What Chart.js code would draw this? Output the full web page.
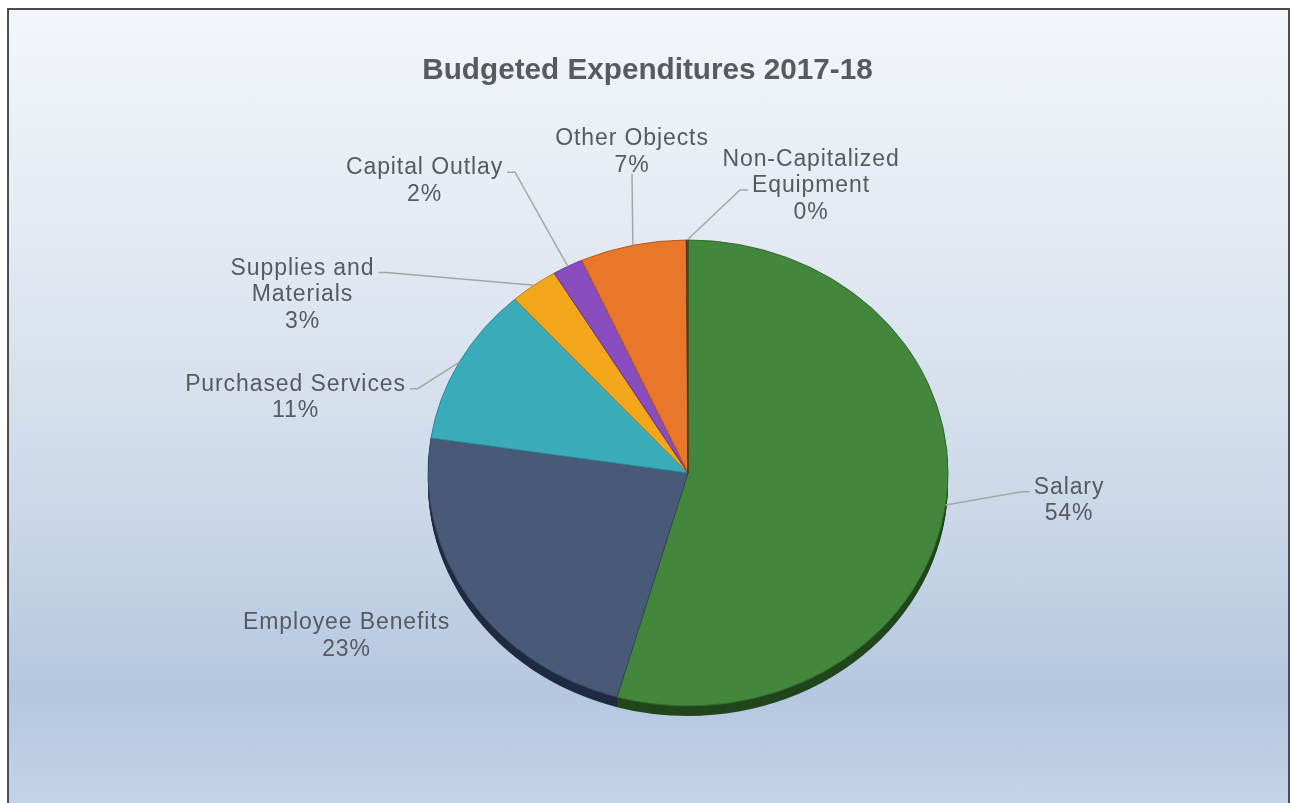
<!DOCTYPE html>
<html>
<head>
<meta charset="utf-8">
<title>Budgeted Expenditures 2017-18</title>
<script src="https://cdn.jsdelivr.net/npm/chart.js@4.4.1/dist/chart.umd.min.js"></script>
<style>
  html, body { margin: 0; padding: 0; background: #ffffff; width: 1291px; height: 803px; overflow: hidden; }
  #frame {
    position: absolute; left: 7px; top: 8px;
    width: 1279px; height: 793px;
    border: 2px solid #4d4d4d; border-bottom: none;
    background: linear-gradient(to bottom, #f3f6fa 0%, #e4eaf3 28%, #cfdbea 58%, #b5c7e0 86%, #c3d3e8 100%);
    overflow: hidden;
  }
  canvas { display: block; }
</style>
</head>
<body>
<div id="frame"><canvas id="budget" width="1279" height="793"></canvas></div>
<script>
// ---- data ----
const chartTitle = 'Budgeted Expenditures 2017-18';
const categories = [
  'Salary',
  'Employee Benefits',
  'Purchased Services',
  'Supplies and\nMaterials',
  'Capital Outlay',
  'Other Objects',
  'Non-Capitalized\nEquipment'
];
const shares = [54.4, 23.0, 11.0, 3.0, 1.9, 6.6, 0.1];

// ---- styling ----
const faceColors = ['#43873d', '#485a78', '#3aabb8', '#f2a71b', '#8a4dbf', '#e9772a', '#7a5230'];
const edgeColors = ['#2f6a2a', '#34445e', '#2b8793', '#b47a10', '#633390', '#b0551a', '#4a3018'];
const sideColors = ['#21461b', '#202b42', '#1c5a62', '#7a520a', '#45215f', '#7a3a10', '#3a2410'];
// label block centre, relative to the pie centre (px)
const labelOffsets = [[381, 26], [-341.5, 161.5], [-392.5, -77], [-385.5, -180], [-263.5, -293.5], [-56, -322.5], [123, -289]];

const TILT = 233 / 260;      // vertical squash of the pie face
const DEPTH = 10;            // thickness of the pie side wall
const LABEL_FONT = '23px "Liberation Sans", Arial, sans-serif';
const TITLE_FONT = 'bold 29.7px "Liberation Sans", Arial, sans-serif';
const TEXT_COLOR = '#575a5e';
const LEADER_COLOR = '#a6a6a6';
const LINE_HEIGHT = 26.5;

const total = shares.reduce((s, v) => s + v, 0);

const tiltedPie = {
  id: 'tiltedPie',
  beforeDatasetsDraw(chart) {
    const ctx = chart.ctx;
    const arcs = chart.getDatasetMeta(0).data;
    const c = arcs[0].getProps(['x', 'y'], true);
    ctx.save();
    ctx.translate(c.x, c.y);
    ctx.scale(1, TILT);
    ctx.translate(-c.x, -c.y);
    // side wall: stacked copies of each slice below the face
    for (let d = DEPTH; d >= 1; d--) {
      arcs.forEach((arc, i) => {
        const p = arc.getProps(['x', 'y', 'startAngle', 'endAngle', 'outerRadius'], true);
        const oy = p.y + d / TILT;
        ctx.beginPath();
        ctx.moveTo(p.x, oy);
        ctx.arc(p.x, oy, p.outerRadius, p.startAngle, p.endAngle);
        ctx.closePath();
        ctx.fillStyle = sideColors[i];
        ctx.fill();
      });
    }
  },
  afterDatasetsDraw(chart) {
    chart.ctx.restore();
  },
  afterDraw(chart) {
    const ctx = chart.ctx;
    const arcs = chart.getDatasetMeta(0).data;
    ctx.save();

    // title
    ctx.font = TITLE_FONT;
    ctx.fillStyle = TEXT_COLOR;
    ctx.textAlign = 'center';
    ctx.textBaseline = 'alphabetic';
    ctx.fillText(chartTitle, chart.width / 2 - 1, 69);

    // data labels with leader lines
    ctx.font = LABEL_FONT;
    try { ctx.letterSpacing = '0.9px'; } catch (e) {}
    arcs.forEach((arc, i) => {
      const p = arc.getProps(['x', 'y', 'startAngle', 'endAngle', 'outerRadius'], true);
      const mid = (p.startAngle + p.endAngle) / 2;
      const ex = p.x + p.outerRadius * Math.cos(mid);
      const ey = p.y + p.outerRadius * Math.sin(mid) * TILT;

      const pct = Math.round(shares[i] / total * 100) + '%';
      const lines = categories[i].split('\n').concat([pct]);
      const bx = p.x + labelOffsets[i][0];
      const by = p.y + labelOffsets[i][1];
      const n = lines.length;
      const rows = lines.map((t, j) => {
        const m = by + (j - (n - 1) / 2) * LINE_HEIGHT;
        const w = ctx.measureText(t).width;
        return { t, m, l: bx - w / 2, r: bx + w / 2 };
      });

      // leader attachment candidates
      const cands = [];
      rows.forEach((r, j) => {
        cands.push({ x: r.l - 4, y: r.m + 6, side: -1 });
        cands.push({ x: r.r + 4, y: r.m + 6, side: 1 });
        if (j === n - 1) cands.push({ x: bx, y: r.m + 10, side: 0 });
      });
      let best = null, bd = Infinity;
      cands.forEach(cd => {
        const d = Math.hypot(cd.x - ex, cd.y - ey);
        if (d < bd) { bd = d; best = cd; }
      });
      if (bd > 40) {
        ctx.beginPath();
        ctx.moveTo(ex, ey);
        if (best.side !== 0) ctx.lineTo(best.x + best.side * 8, best.y);
        ctx.lineTo(best.x, best.y);
        ctx.strokeStyle = LEADER_COLOR;
        ctx.lineWidth = 1.5;
        ctx.stroke();
      }

      ctx.fillStyle = TEXT_COLOR;
      ctx.textAlign = 'center';
      rows.forEach(r => ctx.fillText(r.t, bx, r.m + 8));
    });
    ctx.restore();
  }
};

new Chart(document.getElementById('budget'), {
  type: 'pie',
  data: {
    labels: categories.map(c => c.replace('\n', ' ')),
    datasets: [{
      data: shares,
      backgroundColor: faceColors,
      borderColor: edgeColors,
      borderWidth: 1,
      radius: 260
    }]
  },
  options: {
    responsive: false,
    animation: false,
    devicePixelRatio: 1,
    events: [],
    radius: 260,
    layout: { padding: { top: 133, bottom: 0, left: 79, right: 0 } },
    plugins: {
      legend: { display: false },
      tooltip: { enabled: false },
      title: { display: false }
    }
  },
  plugins: [tiltedPie]
});
</script>
</body>
</html>
